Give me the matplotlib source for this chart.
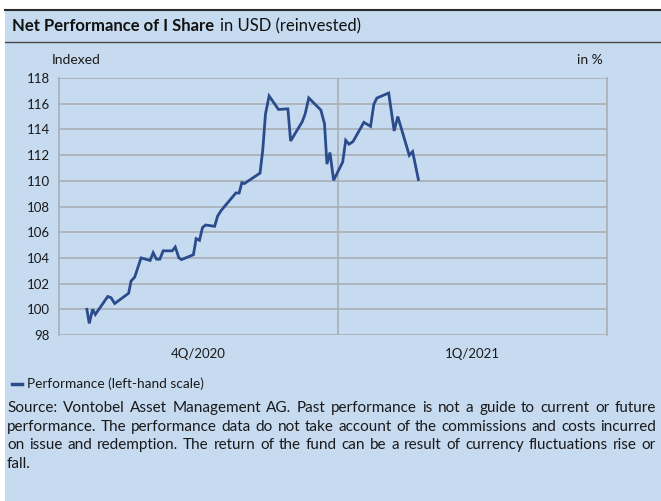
import matplotlib
matplotlib.use("Agg")
import matplotlib.pyplot as plt
from matplotlib.patches import Rectangle
from matplotlib.lines import Line2D

# Days since 1 Oct 2020 and indexed performance
days = [9.2, 10.0, 11.1, 12.0, 16.1, 17.2, 18.4, 23.0, 23.8, 25.0,
        27.1, 30.1, 31.1, 32.2, 33.3, 34.4, 37.4, 38.4, 39.6, 40.5,
        44.4, 45.3, 46.4, 47.4, 48.4, 51.4, 52.4, 53.6, 58.4, 59.5,
        60.4, 61.2, 66.4, 67.3, 68.2, 69.4, 72.5, 75.6, 76.5, 80.3,
        81.3, 82.5, 86.5, 87.7, 88.5, 89.5, 90.7, 93.7, 94.7, 95.8,
        97.1, 100.7, 102.9, 104.0, 105.0, 108.9, 110.7, 111.9, 115.7, 116.8,
        118.7]
performance = [100.0, 98.9, 100.0, 99.6, 101.0, 100.9, 100.45, 101.25, 102.2, 102.5,
               104.0, 103.8, 104.4, 103.9, 103.9, 104.55, 104.55, 104.85, 104.0, 103.87,
               104.25, 105.5, 105.37, 106.36, 106.56, 106.46, 107.26, 107.7, 109.05, 109.05,
               109.86, 109.78, 110.6, 112.4, 115.2, 116.6, 115.55, 115.6, 113.1, 114.58,
               115.2, 116.45, 115.5, 114.43, 111.3, 112.2, 110.04, 111.46, 113.15, 112.85,
               113.05, 114.55, 114.24, 115.96, 116.44, 116.83, 113.88, 115.0, 111.98, 112.27,
               110.1]
quarter_labels = ["4Q/2020", "1Q/2021"]
quarter_centres = [46, 136.5]
quarter_break = 92
yticks = list(range(98, 119, 2))

source = [
    "Source: Vontobel Asset Management AG. Past performance is not a guide to current or future",
    "performance. The performance data do not take account of the commissions and costs incurred",
    "on issue and redemption. The return of the fund can be a result of currency fluctuations rise or",
    "fall.",
]

bg = "#C6DAF0"
grid_col = "#A9AEB5"
line_col = "#2B4C8C"
txt = "#1A1A1A"
plt.rcParams["font.family"] = ["Lato", "DejaVu Sans"]

W, H = 661, 501
fig = plt.figure(figsize=(W / 100, H / 100), dpi=100, facecolor="white")
renderer = fig.canvas.get_renderer()

# light blue panel and title rules
fig.patches.append(Rectangle((5 / W, 0), 1 - 5 / W, 1 - 10 / H, transform=fig.transFigure,
                             facecolor=bg, edgecolor="none", zorder=-10))
fig.lines.append(Line2D([5 / W, 1], [1 - 10 / H] * 2, transform=fig.transFigure,
                        color="#2A2A2A", lw=1.5))
fig.lines.append(Line2D([5 / W, 1], [1 - 41.5 / H] * 2, transform=fig.transFigure,
                        color="#4A4A4A", lw=1.0))

# title in two parts
t1 = fig.text(12 / W, 1 - 26 / H, "Net Performance of I Share", fontsize=12,
              fontweight="bold", va="center", ha="left", color="#111111")
bb = t1.get_window_extent(renderer)
fig.text((bb.x1 + 6) / W, 1 - 26 / H, "in USD (reinvested)", fontsize=12,
         va="center", ha="left", color="#111111")

ax = fig.add_axes([59 / W, 1 - 335 / H, (607 - 59) / W, (335 - 78) / H])
ax.set_facecolor(bg)
ax.plot(days, performance, color=line_col, lw=2.0, solid_joinstyle="miter", zorder=3)

ax.set_xlim(0, 181)
ax.set_ylim(98, 118)
ax.set_yticks(yticks)
ax.set_yticklabels([str(v) for v in yticks], fontsize=9.5)
ax.set_xticks(quarter_centres)
ax.set_xticklabels(quarter_labels, fontsize=9.5)
ax.tick_params(length=0, colors=txt)
ax.tick_params(axis="y", pad=6.5)
ax.tick_params(axis="x", pad=9)
ax.grid(axis="y", color=grid_col, lw=1.2)
ax.axvline(quarter_break, color=grid_col, lw=1.2)
for s in ax.spines.values():
    s.set_color(grid_col)
    s.set_linewidth(1.2)
ax.spines["top"].set_visible(False)
ax.spines["bottom"].set_visible(False)

fig.text(52 / W, 1 - 60 / H, "Indexed", fontsize=10, va="center", ha="left", color=txt)
fig.text(603 / W, 1 - 60 / H, "in %", fontsize=10, va="center", ha="right", color=txt)

# legend
fig.lines.append(Line2D([12 / W, 22 / W], [1 - 384 / H] * 2, transform=fig.transFigure,
                        color=line_col, lw=2.5))
fig.text(27 / W, 1 - 384 / H, "Performance (left-hand scale)", fontsize=9.8,
         va="center", ha="left", color=txt)

# source note, justified between x = 7 and x = 656 (last line left aligned)
left, right = 7, 656
for i, line in enumerate(source):
    y = 1 - (408 + i * 18.7) / H
    if i == len(source) - 1:
        fig.text(left / W, y, line, fontsize=11, va="center", ha="left", color=txt)
        continue
    words = line.split(" ")
    items = [fig.text(0, y, w, fontsize=11, va="center", ha="left", color=txt) for w in words]
    widths = [t.get_window_extent(renderer).width for t in items]
    gap = (right - left - sum(widths)) / (len(words) - 1)
    x = left
    for t, w in zip(items, widths):
        t.set_x(x / W)
        x += w + gap

fig.savefig("out.png", dpi=100, facecolor="white")
